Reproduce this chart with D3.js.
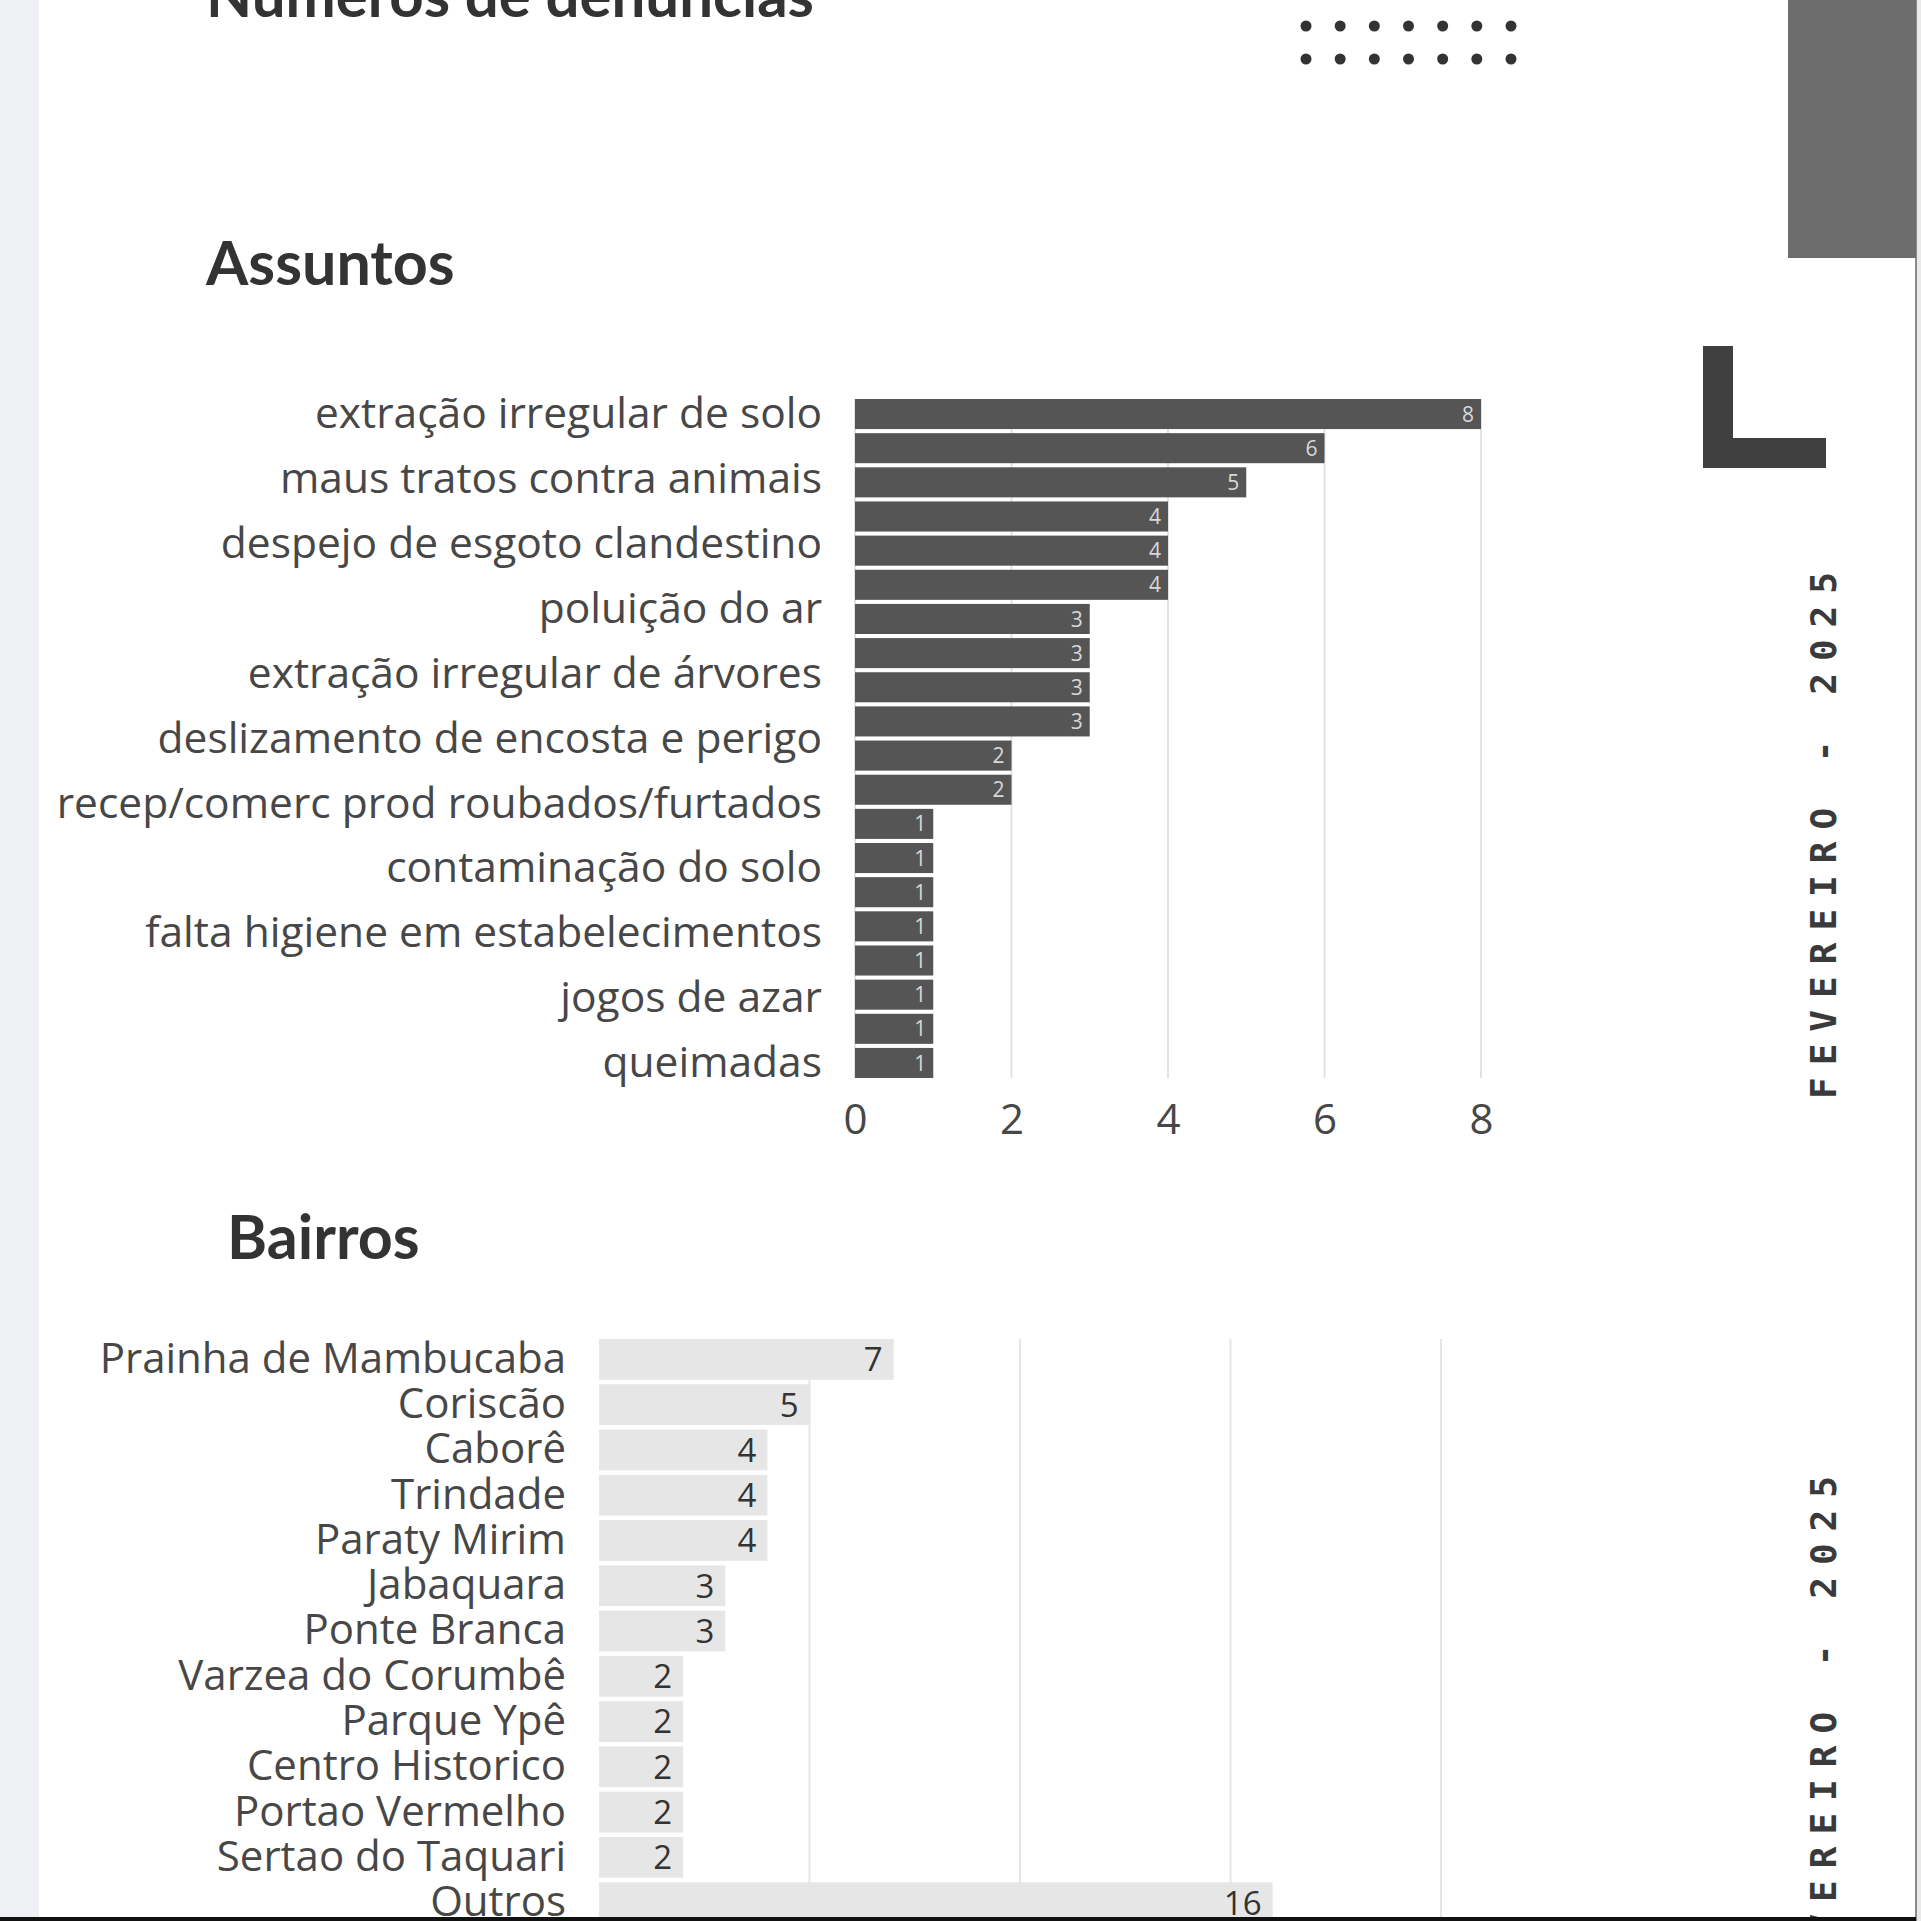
<!DOCTYPE html>
<html><head><meta charset="utf-8">
<script src="https://cdn.jsdelivr.net/npm/d3@7"></script>
<style>html,body{margin:0;padding:0;background:#fff;overflow:hidden}</style>
</head><body>
<script>
// ---- data ----
const assuntoLabels = ["extração irregular de solo","maus tratos contra animais","despejo de esgoto clandestino","poluição do ar","extração irregular de árvores","deslizamento de encosta e perigo","recep/comerc prod roubados/furtados","contaminação do solo","falta higiene em estabelecimentos","jogos de azar","queimadas"];
const assuntoValues = [8,6,5,4,4,4,3,3,3,3,2,2,1,1,1,1,1,1,1,1];
const assuntoTicks = [0,2,4,6,8];
const bairros = ["Prainha de Mambucaba","Coriscão","Caborê","Trindade","Paraty Mirim","Jabaquara","Ponte Branca","Varzea do Corumbê","Parque Ypê","Centro Historico","Portao Vermelho","Sertao do Taquari","Outros"];
const bairroValues = [7,5,4,4,4,3,3,2,2,2,2,2,16];
const bairroGrid = [5,10,15,20];
const titleMain = "Números de denúncias";
const titleA = "Assuntos";
const titleB = "Bairros";
const dateText = "FEVEREIRO - 2025";

const W = 1921, H = 1921;
const svg = d3.select("body").append("svg").attr("width", W).attr("height", H);

// page background
svg.append("rect").attr("x",0).attr("y",0).attr("width",W).attr("height",H).attr("fill","#ffffff");
svg.append("rect").attr("x",0).attr("y",0).attr("width",39).attr("height",H).attr("fill","#eef0f3");
svg.append("rect").attr("x",1916).attr("y",0).attr("width",5).attr("height",H).attr("fill","#e9e9e9");
svg.append("line").attr("x1",1916).attr("x2",1916).attr("y1",0).attr("y2",H).attr("stroke","#8a8a8a").attr("stroke-width",2);

// decorations
svg.append("rect").attr("x",1788).attr("y",0).attr("width",128).attr("height",258).attr("fill","#6d6d6d");
svg.append("rect").attr("x",1703).attr("y",346).attr("width",30).attr("height",122).attr("fill","#3f3f3f");
svg.append("rect").attr("x",1703).attr("y",438).attr("width",123).attr("height",30).attr("fill","#3f3f3f");
const dotCols = d3.range(7), dotRows = d3.range(3);
const dx = d3.scaleLinear().domain([0,6]).range([1306,1511]);
const dy = d3.scaleLinear().domain([0,2]).range([-7,59]);
dotRows.forEach(r => dotCols.forEach(c => {
  svg.append("circle").attr("cx",dx(c)).attr("cy",dy(r)).attr("r",5.5).attr("fill","#333");
}));

// titles
const titleFont = "Lato, 'Open Sans', sans-serif";
svg.append("text").attr("x",206).attr("y",17).text(titleMain)
  .attr("font-family",titleFont).attr("font-weight",700).attr("font-size",60).attr("fill","#333");
svg.append("text").attr("x",206).attr("y",285).text(titleA)
  .attr("font-family",titleFont).attr("font-weight",700).attr("font-size",61).attr("fill","#333");
svg.append("text").attr("x",227).attr("y",1259).text(titleB)
  .attr("font-family",titleFont).attr("font-weight",700).attr("font-size",61).attr("fill","#333");

// vertical date labels
function dateLabel(yStart){
  svg.append("text")
    .attr("transform",`translate(1836,${yStart}) rotate(-90)`)
    .attr("font-family","'DejaVu Sans Mono', monospace").attr("font-weight",700)
    .attr("font-size",36).attr("fill","#3a3a3a")
    .attr("textLength",527).attr("lengthAdjust","spacing")
    .text(dateText);
}
dateLabel(1099);
dateLabel(2003);

const labelFont = "'Open Sans', sans-serif";

// ---- Assuntos chart ----
const xA = d3.scaleLinear().domain([0,8]).range([855,1481]);
const yA = d3.scaleBand().domain(d3.range(assuntoValues.length)).range([399,1078]).paddingInner(0.12).paddingOuter(0);
const gA = svg.append("g");
gA.selectAll("line.grid").data(assuntoTicks).join("line")
  .attr("x1",d=>xA(d)).attr("x2",d=>xA(d)).attr("y1",399).attr("y2",1078)
  .attr("stroke","#e3e3e3").attr("stroke-width",2);
gA.selectAll("rect.bar").data(assuntoValues).join("rect")
  .attr("x",xA(0)).attr("y",(d,i)=>yA(i)).attr("width",d=>xA(d)-xA(0)).attr("height",yA.bandwidth())
  .attr("fill","#555555");
gA.selectAll("text.val").data(assuntoValues).join("text")
  .attr("x",d=>xA(d)-7).attr("y",(d,i)=>yA(i)+yA.bandwidth()/2).attr("dy","0.36em")
  .attr("text-anchor","end").attr("font-family",labelFont).attr("font-size",21).attr("fill","#d8d8d8")
  .text(d=>d);
// category labels as a point-scale axis spanning first to last band
const yAL = d3.scalePoint().domain(assuntoLabels)
  .range([yA(0)+yA.bandwidth()/2, yA(assuntoValues.length-1)+yA.bandwidth()/2]);
const axL = gA.append("g").attr("transform",`translate(${xA(0)-33},0)`)
  .call(d3.axisLeft(yAL).tickSize(0).tickPadding(0));
axL.select(".domain").remove();
axL.selectAll("text").attr("font-family",labelFont).attr("font-size",42.5).attr("fill","#474747");
// x axis ticks
const axX = gA.append("g").attr("transform",`translate(0,1104)`)
  .call(d3.axisBottom(xA).tickValues(assuntoTicks).tickSize(0).tickPadding(0));
axX.select(".domain").remove();
axX.selectAll("text").attr("font-family",labelFont).attr("font-size",42).attr("fill","#474747").attr("dy","0.71em");

// ---- Bairros chart ----
const xB = d3.scaleLinear().domain([0,20]).range([599,1441]);
const yB = d3.scaleBand().domain(bairros).range([1339,1923]).paddingInner(0.1).paddingOuter(0);
const gB = svg.append("g");
gB.selectAll("line.grid").data(bairroGrid).join("line")
  .attr("x1",d=>xB(d)).attr("x2",d=>xB(d)).attr("y1",1339).attr("y2",H)
  .attr("stroke","#e6e6e6").attr("stroke-width",2);
gB.selectAll("rect.bar").data(bairroValues).join("rect")
  .attr("x",xB(0)).attr("y",(d,i)=>yB(bairros[i])).attr("width",d=>xB(d)-xB(0)).attr("height",yB.bandwidth())
  .attr("fill","#e6e6e6");
gB.selectAll("text.val").data(bairroValues).join("text")
  .attr("x",d=>xB(d)-11).attr("y",(d,i)=>yB(bairros[i])+yB.bandwidth()/2).attr("dy","0.36em")
  .attr("text-anchor","end").attr("font-family",labelFont).attr("font-size",33).attr("fill","#333")
  .text(d=>d);
const axB = gB.append("g").attr("transform",`translate(${xB(0)-33},0)`)
  .call(d3.axisLeft(yB).tickSize(0).tickPadding(0));
axB.select(".domain").remove();
axB.selectAll("text").attr("font-family",labelFont).attr("font-size",42).attr("fill","#474747");

// bottom border
svg.append("rect").attr("x",0).attr("y",1917).attr("width",1916).attr("height",4).attr("fill","#111");
</script>
</body></html>
